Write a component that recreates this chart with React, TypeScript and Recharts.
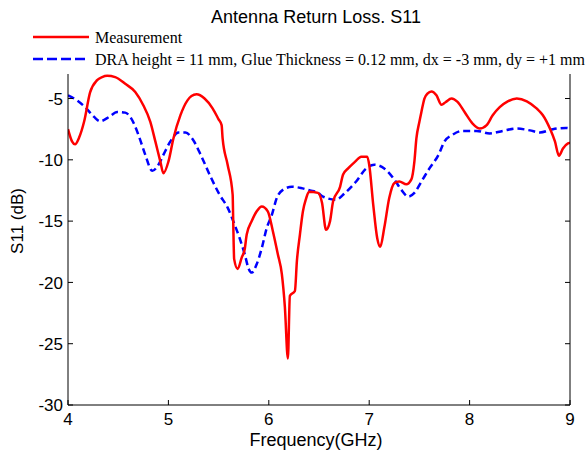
import { LineChart, Line, XAxis, YAxis } from 'recharts'

// Measured S11 (GHz, dB)
const measFreq = [
  4.0, 4.04, 4.07, 4.11, 4.16, 4.22, 4.29, 4.34, 4.39, 4.47, 4.57, 4.67, 4.75, 4.82, 4.87, 4.92,
  4.95, 5.0, 5.05, 5.12, 5.19, 5.23, 5.28, 5.36, 5.44, 5.5, 5.53, 5.54, 5.59, 5.64, 5.645, 5.655,
  5.69, 5.73, 5.76, 5.78, 5.83, 5.88, 5.93, 5.99, 6.04, 6.09, 6.13, 6.16, 6.19, 6.21, 6.26, 6.28,
  6.31, 6.34, 6.37, 6.4, 6.49, 6.53, 6.57, 6.61, 6.64, 6.71, 6.74, 6.79, 6.86, 6.92, 6.98, 7.0,
  7.04, 7.08, 7.11, 7.15, 7.2, 7.25, 7.3, 7.37, 7.42, 7.45, 7.47, 7.5, 7.52, 7.55, 7.58, 7.62,
  7.67, 7.72, 7.76, 7.82, 7.88, 7.95, 8.03, 8.1, 8.17, 8.23, 8.3, 8.38, 8.47, 8.57, 8.67, 8.73,
  8.8, 8.85, 8.89, 8.93, 8.98, 9.0,
]
const measS11 = [
  -7.5, -8.5, -8.74, -8.2, -6.9, -4.5, -3.5, -3.25, -3.15, -3.26, -3.8, -4.47, -5.55, -6.9, -8.5, -10.15,
  -11.1, -10.15, -8.26, -6.36, -5.15, -4.8, -4.66, -5.0, -5.8, -6.7, -7.17, -8.26, -10.4, -12.85, -14.74, -18.1,
  -18.9, -17.98, -17.3, -16.1, -15.0, -14.2, -13.8, -14.2, -15.8, -17.7, -19.33, -22.0, -26.2, -21.1, -20.7, -18.25,
  -16.1, -14.2, -13.2, -12.6, -12.7, -13.5, -15.7, -15.0, -13.4, -12.2, -11.2, -10.7, -10.15, -9.74, -9.74, -10.4,
  -13.65, -16.4, -17.1, -15.55, -13.1, -11.9, -11.77, -12.0, -11.6, -10.15, -8.26, -6.9, -6.1, -5.0, -4.6, -4.42,
  -4.74, -5.5, -5.3, -5.0, -5.28, -6.1, -7.04, -7.45, -7.17, -6.36, -5.7, -5.23, -5.0, -5.23, -5.83, -6.36,
  -7.45, -8.5, -9.66, -9.07, -8.66, -8.6,
]

// Simulated S11 (DRA height = 11 mm ...)
const simFreq = [
  4.0, 4.09, 4.17, 4.26, 4.32, 4.41, 4.49, 4.57, 4.62, 4.67, 4.72, 4.77, 4.84, 4.89, 4.95, 5.02,
  5.1, 5.17, 5.24, 5.33, 5.41, 5.51, 5.59, 5.66, 5.71, 5.76, 5.8, 5.83, 5.88, 5.93, 5.98, 6.03,
  6.08, 6.14, 6.23, 6.32, 6.41, 6.49, 6.54, 6.67, 6.76, 6.87, 6.97, 7.05, 7.15, 7.25, 7.32, 7.39,
  7.45, 7.52, 7.6, 7.69, 7.75, 7.83, 7.93, 8.07, 8.2, 8.33, 8.47, 8.6, 8.7, 8.83, 8.96, 9.0,
]
const simS11 = [
  -4.74, -5.15, -5.7, -6.5, -6.85, -6.5, -6.1, -6.15, -6.5, -7.3, -8.4, -9.6, -10.9, -10.55, -9.6, -8.5,
  -7.77, -7.77, -8.3, -9.74, -11.2, -12.85, -13.9, -15.3, -16.4, -17.7, -18.9, -19.2, -18.5, -17.2, -15.55, -14.5,
  -13.1, -12.45, -12.2, -12.3, -12.5, -12.7, -13.0, -13.25, -12.7, -11.77, -10.7, -10.4, -10.7, -11.6, -12.45, -13.0,
  -12.7, -11.77, -10.7, -9.6, -8.5, -7.96, -7.64, -7.64, -7.85, -7.64, -7.45, -7.6, -7.77, -7.5, -7.4, -7.45,
]

const freqTicks = [4, 5, 6, 7, 8, 9]
const dbTicks = [-30, -25, -20, -15, -10, -5]

const measData = measFreq.map((f, i) => ({ freq: f, s11: measS11[i] }))
const simData = simFreq.map((f, i) => ({ freq: f, s11: simS11[i] }))

const SANS = '"Liberation Sans", Arial, sans-serif'
const SERIF = '"Liberation Serif", "Times New Roman", serif'

function BottomTick({ x, y, payload }: any) {
  return (
    <g>
      <line x1={x} y1={y} x2={x} y2={y - 5} stroke="#000" />
      <text x={x} y={y + 20} textAnchor="middle" fontSize={17} fontFamily={SANS} fill="#000">
        {payload.value}
      </text>
    </g>
  )
}

function LeftTick({ x, y, payload }: any) {
  return (
    <g>
      <line x1={x} y1={y} x2={x + 5} y2={y} stroke="#000" />
      <text x={x - 5} y={y} dy="0.36em" textAnchor="end" fontSize={17} fontFamily={SANS} fill="#000">
        {payload.value}
      </text>
    </g>
  )
}

function RightTick({ x, y }: any) {
  return <line x1={x} y1={y} x2={x - 5} y2={y} stroke="#000" />
}

export default function App() {
  return (
    <div style={{ position: 'absolute', left: 0, top: 0, background: '#fff' }}>
      <LineChart width={587} height={453} margin={{ top: 74, right: 0, left: 0, bottom: 0 }}>
        <XAxis
          dataKey="freq"
          type="number"
          domain={[4, 9]}
          ticks={freqTicks}
          allowDataOverflow
          height={48}
          tickSize={0}
          tickMargin={0}
          tick={<BottomTick />}
          axisLine={{ stroke: '#000' }}
        />
        <YAxis
          yAxisId="left"
          type="number"
          domain={[-30, -3]}
          ticks={dbTicks}
          allowDataOverflow
          width={68}
          tickSize={0}
          tickMargin={0}
          tick={<LeftTick />}
          axisLine={{ stroke: '#000' }}
        />
        <YAxis
          yAxisId="right"
          orientation="right"
          type="number"
          domain={[-30, -3]}
          ticks={dbTicks}
          allowDataOverflow
          width={17}
          tickSize={0}
          tickMargin={0}
          tick={<RightTick />}
          axisLine={{ stroke: '#000' }}
        />
        <Line
          yAxisId="left"
          data={simData}
          dataKey="s11"
          type="monotone"
          stroke="#0000ff"
          strokeWidth={2.5}
          strokeDasharray="7 4"
          dot={false}
          activeDot={false}
          isAnimationActive={false}
        />
        <Line
          yAxisId="left"
          data={measData}
          dataKey="s11"
          type="monotone"
          stroke="#ff0000"
          strokeWidth={2.5}
          dot={false}
          activeDot={false}
          isAnimationActive={false}
        />

        {/* title, axis labels and legend */}
        <text x={316} y={23} textAnchor="middle" fontSize={18} fontFamily={SANS} fill="#000">
          Antenna Return Loss. S11
        </text>
        <text
          transform="translate(23, 221) rotate(-90)"
          textAnchor="middle"
          fontSize={17}
          fontFamily={SANS}
          fill="#000"
        >
          S11 (dB)
        </text>
        <text x={316} y={446} textAnchor="middle" fontSize={18} fontFamily={SANS} fill="#000">
          Frequency(GHz)
        </text>
        <line x1={33} y1={37} x2={89} y2={37} stroke="#ff0000" strokeWidth={2.5} />
        <text x={95} y={43} fontSize={16} fontFamily={SERIF} fill="#000">
          Measurement
        </text>
        <line x1={33} y1={59} x2={89} y2={59} stroke="#0000ff" strokeWidth={2.5} strokeDasharray="10 4" />
        <text x={95} y={65} fontSize={16} fontFamily={SERIF} fill="#000">
          DRA height = 11 mm, Glue Thickness = 0.12 mm, dx = -3 mm, dy = +1 mm
        </text>
      </LineChart>
    </div>
  )
}
